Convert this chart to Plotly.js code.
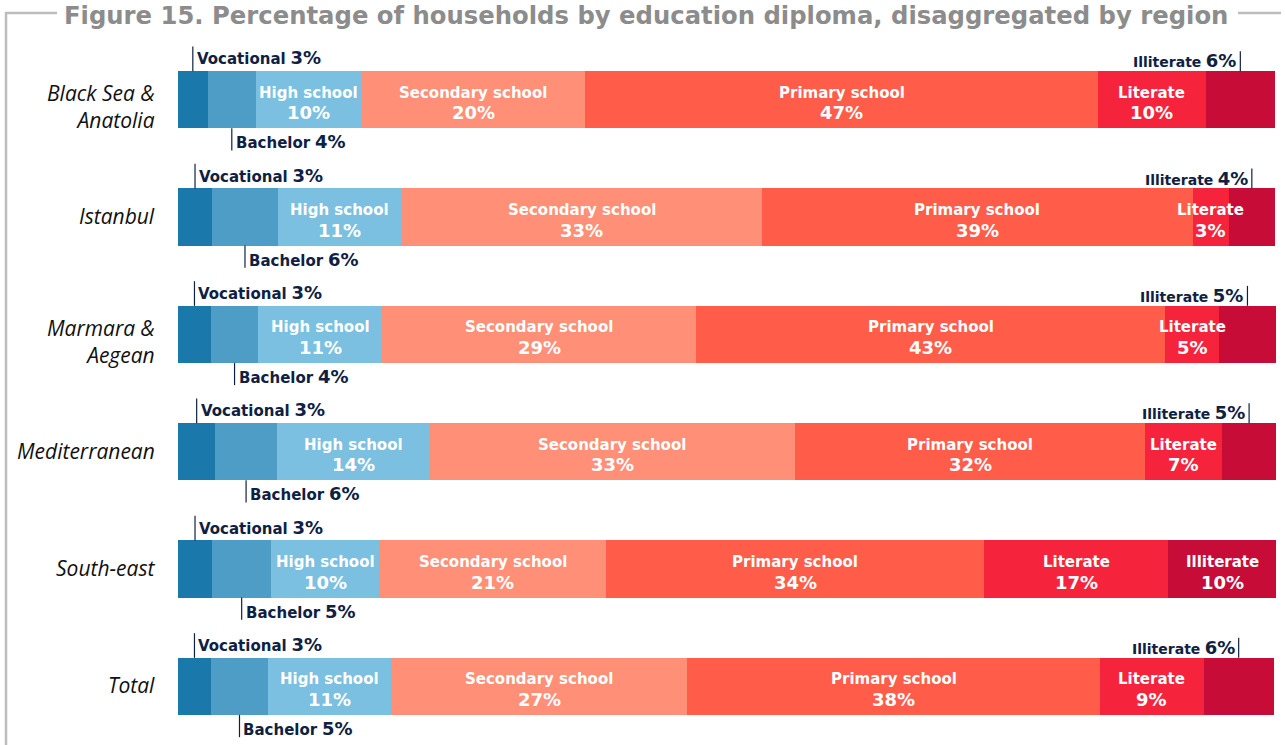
<!DOCTYPE html>
<html>
<head>
<meta charset="utf-8">
<script src="https://cdn.plot.ly/plotly-3.0.1.min.js"></script>
<style>html,body{margin:0;padding:0;background:#fff}#chart{width:1285px;height:745px}</style>
</head>
<body>
<div id="chart"></div>
<script>
// ---- data ----
const regions = ['Black Sea &<br>Anatolia', 'Istanbul', 'Marmara &<br>Aegean', 'Mediterranean', 'South-east', 'Total'];
const levels = ['Vocational', 'Bachelor', 'High school', 'Secondary school', 'Primary school', 'Literate', 'Illiterate'];
const vocational = [2.7, 3.1, 3.0, 3.4, 3.1, 3.0];
const bachelor   = [4.4, 6.0, 4.3, 5.6, 5.4, 5.2];
const highSchool = [9.6, 11.2, 11.3, 13.9, 9.8, 11.2];
const secondary  = [20.4, 32.9, 28.6, 33.3, 20.7, 27.0];
const primary    = [46.7, 39.2, 42.7, 31.9, 34.4, 37.6];
const literate   = [9.8, 3.3, 4.9, 7.0, 16.8, 9.4];
const illiterate = [6.3, 4.2, 5.2, 4.9, 9.8, 6.4];
const titleText = 'Figure 15. Percentage of households by education diploma, disaggregated by region';

// ---- styles ----
const series = [vocational, bachelor, highSchool, secondary, primary, literate, illiterate];
const colors = ['#1a78aa', '#4e9dc6', '#7bc0e0', '#ff8f76', '#ff5c4a', '#f5243c', '#c70c38'];
const navy = '#0f2142';
const FONT = 'DejaVu Sans';
const L = 178, R = 9, T = 41, B = 0, W = 1285, H = 745;
const PW = W - L - R, PH = H - T - B;
const px2x = x => (x - L) / PW;
const px2y = y => 1 - (y - T) / PH;
const barW = 0.486;

const traces = levels.map((lv, k) => ({
  type: 'bar', orientation: 'h', name: lv,
  y: regions, x: series[k],
  marker: { color: colors[k], line: { width: 0 } },
  hoverinfo: 'skip'
}));

const annotations = [];
const shapes = [];
const pct = v => Math.round(v) + '%';

regions.forEach((reg, i) => {
  // region label (right-aligned, italic)
  const multi = reg.indexOf('<br>') >= 0;
  annotations.push({ xref: 'paper', yref: 'y', x: px2x(157), y: reg, showarrow: false,
    xanchor: 'right', yanchor: 'middle', align: 'right', yshift: multi ? -7 : 1, text: reg,
    font: { family: 'Open Sans', size: 21, color: '#111111', style: 'italic' } });

  let cum = 0;
  const starts = series.map(s => { const c = cum; cum += s[i]; return c; });
  series.forEach((s, k) => {
    const v = s[i];
    const mid = starts[k] + v / 2;
    const inside = (k >= 2 && k <= 5) || (k === 6 && v >= 8);
    if (inside) {
      annotations.push({ x: mid, y: reg, xref: 'x', yref: 'y', showarrow: false,
        text: '<b>' + levels[k] + '</b>', yshift: 7,
        font: { family: FONT, size: 15, color: '#ffffff' } });
      annotations.push({ x: mid, y: reg, xref: 'x', yref: 'y', showarrow: false,
        text: '<b>' + pct(v) + '</b>', yshift: -13,
        font: { family: FONT, size: 18, color: '#ffffff' } });
    } else if (k === 0) {
      shapes.push({ type: 'line', xref: 'x', yref: 'y', x0: mid, x1: mid,
        y0: i - barW / 2, y1: i - barW / 2 - 0.21, line: { color: navy, width: 1.2 } });
      annotations.push({ x: mid, y: reg, xref: 'x', yref: 'y', showarrow: false,
        xanchor: 'left', xshift: 2, yshift: 42,
        text: '<b>' + levels[k] + '</b> <b><span style="font-size:18px">' + pct(v) + '</span></b>',
        font: { family: FONT, size: 15, color: navy } });
    } else if (k === 1) {
      shapes.push({ type: 'line', xref: 'x', yref: 'y', x0: mid, x1: mid,
        y0: i + barW / 2, y1: i + barW / 2 + 0.19, line: { color: navy, width: 1.2 } });
      annotations.push({ x: mid, y: reg, xref: 'x', yref: 'y', showarrow: false,
        xanchor: 'left', xshift: 2, yshift: -42,
        text: '<b>' + levels[k] + '</b> <b><span style="font-size:18px">' + pct(v) + '</span></b>',
        font: { family: FONT, size: 15, color: navy } });
    } else if (k === 6) {
      shapes.push({ type: 'line', xref: 'x', yref: 'y', x0: mid, x1: mid,
        y0: i - barW / 2, y1: i - barW / 2 - 0.17, line: { color: navy, width: 1.2 } });
      annotations.push({ x: mid, y: reg, xref: 'x', yref: 'y', showarrow: false,
        xanchor: 'right', xshift: -2, yshift: 39,
        text: '<b>' + levels[k] + '</b> <b><span style="font-size:18px">' + pct(v) + '</span></b>',
        font: { family: FONT, size: 14, color: navy } });
    }
  });
});

// title & frame
annotations.push({ xref: 'paper', yref: 'paper', x: px2x(646), y: px2y(0), showarrow: false,
  xanchor: 'center', yanchor: 'top', borderpad: 0, text: '<b>' + titleText + '</b>',
  font: { family: FONT, size: 24.3, color: '#8c8c8c' } });
const frame = { color: '#bdbdbd', width: 2.5 };
shapes.push({ type: 'line', xref: 'paper', yref: 'paper', x0: px2x(5), x1: px2x(57), y0: px2y(13), y1: px2y(13), line: frame });
shapes.push({ type: 'line', xref: 'paper', yref: 'paper', x0: px2x(6), x1: px2x(6), y0: px2y(12), y1: px2y(746), line: frame });
shapes.push({ type: 'line', xref: 'paper', yref: 'paper', x0: px2x(1238), x1: px2x(1281), y0: px2y(13), y1: px2y(13), line: frame });

const layout = {
  width: W, height: H,
  margin: { l: L, r: R, t: T, b: B, pad: 0 },
  barmode: 'stack', bargap: 1 - barW,
  showlegend: false,
  paper_bgcolor: '#ffffff', plot_bgcolor: '#ffffff',
  xaxis: { range: [0, 100], visible: false, fixedrange: true },
  yaxis: { type: 'category', categoryorder: 'array', categoryarray: regions,
    range: [regions.length - 0.5, -0.5], showgrid: false, zeroline: false, showline: false,
    ticks: '', showticklabels: false },
  annotations: annotations,
  shapes: shapes
};

Plotly.newPlot('chart', traces, layout, { staticPlot: true, displayModeBar: false });
</script>
</body>
</html>
